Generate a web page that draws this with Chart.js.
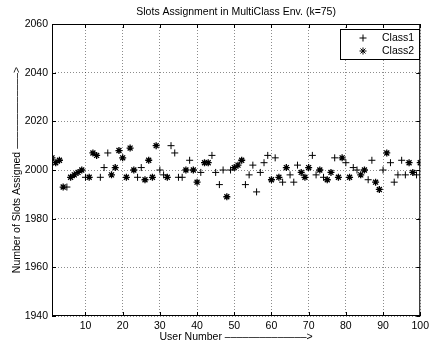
<!DOCTYPE html>
<html lang="en">
<head>
    <meta charset="UTF-8">
    <title>Slots Assignment in MultiClass Env.</title>
    <script src="https://cdn.jsdelivr.net/npm/chart.js@4.4.0/dist/chart.umd.min.js"></script>
    <style>
        html, body { margin: 0; padding: 0; background: #fff; }
        .chart-box { position: relative; width: 433px; height: 345px; }
    </style>
</head>
<body>
    <div class="chart-box">
        <canvas id="slotsChart"></canvas>
    </div>
    <script>
        // users served as Class1 (+) and the slots they got
        const class1Users = [5, 10, 14, 15, 16, 24, 25, 30, 31, 33, 34, 35, 36, 38, 41, 44, 45, 46, 47, 49,
            53, 54, 55, 56, 57, 58, 59, 61, 63, 65, 66, 67, 71, 72, 74, 77, 80, 82, 83, 86,
            87, 90, 92, 93, 94, 95, 96, 99];
        const class1Slots = [1993, 1997, 1997, 2001, 2007, 1997, 2001, 2000, 1998, 2010, 2007, 1997, 1997, 2004, 1999, 2006, 1999, 1994, 2000, 2000,
            1994, 1998, 2002, 1991, 1999, 2003, 2006, 2005, 1995, 1998, 1995, 2002, 2006, 1998, 1997, 2005, 2003, 2001, 2000, 1996,
            2004, 2000, 2003, 1995, 1998, 2004, 1998, 1998];

        // users served as Class2 (*)
        const class2Users = [1, 2, 3, 4, 6, 7, 8, 9, 11, 12, 13, 17, 18, 19, 20, 21, 22, 23, 26, 27,
            28, 29, 32, 37, 39, 40, 42, 43, 48, 50, 51, 52, 60, 62, 64, 68, 69, 70, 73, 75,
            76, 78, 79, 81, 84, 85, 88, 89, 91, 97, 98, 100];
        const class2Slots = [2005, 2003, 2004, 1993, 1997, 1998, 1999, 2000, 1997, 2007, 2006, 1998, 2001, 2008, 2005, 1997, 2009, 2000, 1996, 2004,
            1997, 2010, 1997, 2000, 2000, 1995, 2003, 2003, 1989, 2001, 2002, 2004, 1996, 1997, 2001, 1999, 1997, 2001, 2000, 1996,
            1999, 1997, 2005, 1997, 1998, 2000, 1995, 1992, 2007, 2003, 1999, 2003];

        const xTicks = [10, 20, 30, 40, 50, 60, 70, 80, 90, 100];
        const yTicks = [1940, 1960, 1980, 2000, 2020, 2040, 2060];

        const chartTitle = 'Slots Assignment in MultiClass Env. (k=75)';
        const xLabel = 'User Number \u2013\u2013\u2013\u2013\u2013\u2013\u2013\u2013\u2013\u2013\u2013\u2013\u2013\u2013>';
        const yLabel = 'Number of Slots Assigned \u2013\u2013\u2013\u2013\u2013\u2013\u2013\u2013\u2013\u2013\u2013\u2013\u2013>';

        const FONT = '"Liberation Sans", Arial, Helvetica, sans-serif';

        // box, inward ticks, title and legend drawn like the matlab figure
        const matlabFrame = {
            id: 'matlabFrame',
            afterDraw(chart) {
                const { ctx, chartArea: a, scales } = chart;
                ctx.save();
                ctx.strokeStyle = '#000';
                ctx.lineWidth = 1;
                ctx.strokeRect(a.left + 0.5, a.top + 0.5, a.right - a.left - 1, a.bottom - a.top - 1);

                const tl = 4;
                ctx.beginPath();
                xTicks.forEach(v => {
                    const px = Math.round(scales.x.getPixelForValue(v)) + 0.5;
                    ctx.moveTo(px, a.bottom); ctx.lineTo(px, a.bottom - tl);
                    ctx.moveTo(px, a.top); ctx.lineTo(px, a.top + tl);
                });
                yTicks.forEach(v => {
                    const py = Math.round(scales.y.getPixelForValue(v)) + 0.5;
                    ctx.moveTo(a.left, py); ctx.lineTo(a.left + tl, py);
                    ctx.moveTo(a.right, py); ctx.lineTo(a.right - tl, py);
                });
                ctx.stroke();

                // title centred over the axes
                ctx.fillStyle = '#000';
                ctx.font = '10.5px ' + FONT;
                ctx.textAlign = 'center';
                ctx.textBaseline = 'middle';
                ctx.fillText(chartTitle, (a.left + a.right) / 2, 12);

                // legend
                const lx = 340, ly = 29, lw = 79, lh = 30;
                ctx.fillStyle = '#fff';
                ctx.fillRect(lx, ly, lw, lh);
                ctx.strokeRect(lx + 0.5, ly + 0.5, lw, lh);
                ctx.textAlign = 'left';
                chart.data.datasets.forEach((ds, i) => {
                    const rowY = ly + 9 + i * 13;
                    Chart.helpers.drawPoint(ctx, {
                        pointStyle: ds.pointStyle,
                        radius: ds.pointRadius,
                        borderWidth: ds.borderWidth
                    }, lx + 23, rowY);
                    ctx.fillStyle = '#000';
                    ctx.fillText(ds.label, lx + 42, rowY);
                });
                ctx.restore();
            }
        };

        const ctx = document.getElementById('slotsChart').getContext('2d');
        new Chart(ctx, {
            type: 'scatter',
            data: {
                datasets: [{
                    label: 'Class1',
                    data: class1Users.map((u, i) => ({ x: u, y: class1Slots[i] })),
                    pointStyle: 'cross',
                    pointRadius: 3.5,
                    borderColor: '#000',
                    backgroundColor: '#000',
                    borderWidth: 1
                }, {
                    label: 'Class2',
                    data: class2Users.map((u, i) => ({ x: u, y: class2Slots[i] })),
                    pointStyle: 'star',
                    pointRadius: 3.5,
                    borderColor: '#000',
                    backgroundColor: '#000',
                    borderWidth: 1.3
                }]
            },
            options: {
                animation: false,
                responsive: true,
                maintainAspectRatio: false,
                layout: { padding: { top: 24, right: 9, left: 0, bottom: 0 } },
                plugins: {
                    legend: { display: false },
                    title: { display: false },
                    tooltip: { enabled: false }
                },
                scales: {
                    x: {
                        type: 'linear',
                        min: 1,
                        max: 100,
                        afterBuildTicks: scale => { scale.ticks = xTicks.map(v => ({ value: v })); },
                        afterFit: scale => { scale.height = 29; },
                        grid: { color: 'rgba(0,0,0,0.45)', drawTicks: false, lineWidth: 1 },
                        border: { display: false, dash: [1, 2] },
                        ticks: {
                            color: '#000', padding: 4, maxRotation: 0,
                            font: { family: FONT, size: 10.5 },
                            callback: v => String(v)
                        },
                        title: {
                            display: true,
                            text: xLabel,
                            color: '#000',
                            padding: { top: 0, bottom: 2 },
                            font: { family: FONT, size: 10.5 }
                        }
                    },
                    y: {
                        type: 'linear',
                        min: 1940,
                        max: 2060,
                        afterBuildTicks: scale => { scale.ticks = yTicks.map(v => ({ value: v })); },
                        afterFit: scale => { scale.width = 52; },
                        grid: { color: 'rgba(0,0,0,0.45)', drawTicks: false, lineWidth: 1 },
                        border: { display: false, dash: [1, 2] },
                        ticks: {
                            color: '#000', padding: 4,
                            font: { family: FONT, size: 10.5 },
                            callback: v => String(v)
                        },
                        title: {
                            display: true,
                            text: yLabel,
                            color: '#000',
                            padding: { top: 11, bottom: 0 },
                            font: { family: FONT, size: 10.5 }
                        }
                    }
                }
            },
            plugins: [matlabFrame]
        });
    </script>
</body>
</html>
